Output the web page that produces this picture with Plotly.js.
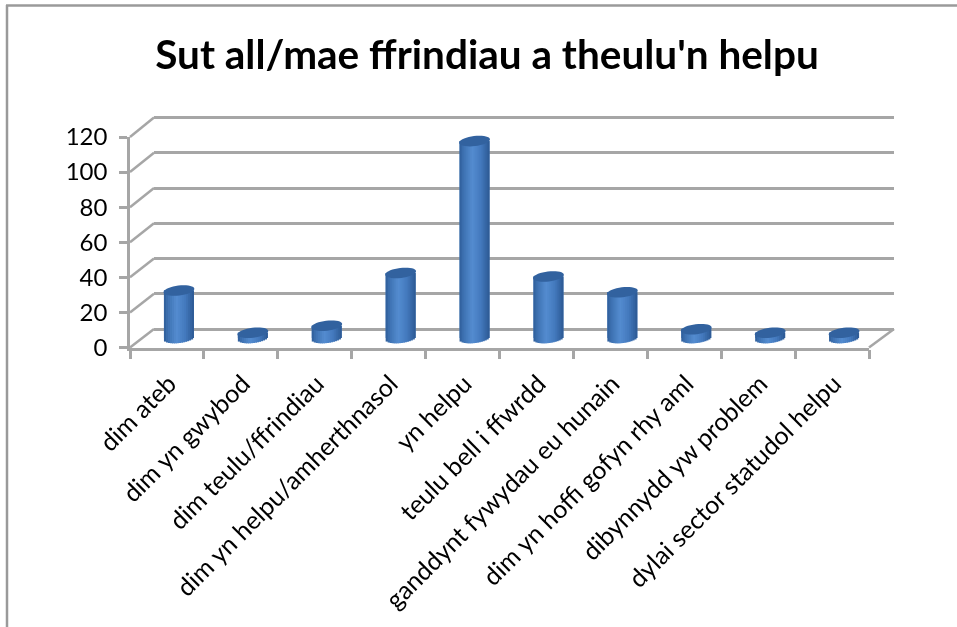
<!DOCTYPE html>
<html><head><meta charset="utf-8">
<script src="https://cdn.plot.ly/plotly-3.0.1.min.js"></script>
<style>html,body{margin:0;padding:0;background:#fff}#c{width:957px;height:627px;filter:blur(0.45px)}</style>
</head><body><div id="c"></div>
<script>
const categories = ["dim ateb","dim yn gwybod","dim teulu/ffrindiau","dim yn helpu/amherthnasol","yn helpu","teulu bell i ffwrdd","ganddynt fywydau eu hunain","dim yn hoffi gofyn rhy aml","dibynnydd yw problem","dylai sector statudol helpu"];
const values = [27,3,7,37,112,35,26,5,3,3];
const yTicks = [0,20,40,60,80,100,120];
const titleText = "Sut all/mae ffrindiau a theulu'n helpu";

const W = 957, H = 627;
const fx = p => p / W, fy = p => 1 - p / H;
const front = {x0:130, x1:869, y0:347.5, y1:137};
const back  = {x0:154, x1:894, y0:329, y1:117.5};
const mid   = {x0:142, x1:881, y0:338, y1:127};
const grey = "#a6a6a6";
const pxPerUnit = (mid.y0 - mid.y1) / 120;
const catW = (mid.x1 - mid.x0) / categories.length;
const cylW = 30, a = 15.5, b = 5, tilt = -7 * Math.PI / 180;
const below = 8; // value units of room under the floor for the lower rim

// gradient across the cylinder
const stops = [[0,[46,92,152]],[0.12,[60,112,176]],[0.42,[84,140,208]],[0.7,[68,122,190]],[0.9,[52,100,162]],[1,[44,88,146]]];
function shade(t){
  for(let i=1;i<stops.length;i++){ if(t<=stops[i][0]){
    const [t0,c0]=stops[i-1],[t1,c1]=stops[i],k=(t-t0)/(t1-t0);
    return "rgb("+c0.map((c,j)=>Math.round(c+(c1[j]-c)*k)).join(",")+")";
  }}
  return "rgb(44,88,146)";
}
const common = {xaxis:"x3",yaxis:"y3",type:"bar",hoverinfo:"skip",showlegend:false};
const traces = [Object.assign({},common,{x:categories,y:values,width:cylW/catW,marker:{color:"#4a7fbe",line:{width:0}},name:"Sut all",hoverinfo:"x+y"})];
const strips = 15;
for(let i=0;i<strips;i++){
  const t0=i/strips, tc=(i+0.5)/strips, u=2*tc-1;
  // lower rim of the cylinder: half ellipse, tilted like the top
  const dropPx = b*Math.sqrt(1-u*u) + Math.tan(tilt)*a*u;
  const base = categories.map(()=> -dropPx/pxPerUnit);
  traces.push(Object.assign({},common,{
    x:categories,
    y:values.map((v,k)=>v-base[k]),
    base:base,
    width:(cylW/catW)/strips+(i<strips-1?0.016:0),
    offset:(cylW/catW)*(t0-0.5),
    marker:{color:shade(tc),line:{width:0}}
  }));
}
// cylinder tops: tilted ellipse anchored on each value
function ellipsePath(){
  let s="";
  for(let i=0;i<36;i++){
    const th=2*Math.PI*i/36, ex=a*Math.cos(th), ey=b*Math.sin(th);
    const px=ex*Math.cos(tilt)-ey*Math.sin(tilt), py=ex*Math.sin(tilt)+ey*Math.cos(tilt);
    s+=(i?"L":"M")+px.toFixed(2)+","+(-py).toFixed(2)+" ";
  }
  return s+"Z";
}
const shapes = [];
yTicks.forEach(v=>{
  const k=v/120;
  shapes.push({type:"line",xref:"paper",yref:"paper",layer:"below",
    x0:fx(front.x0),y0:fy(front.y0+(front.y1-front.y0)*k),
    x1:fx(back.x0),y1:fy(back.y0+(back.y1-back.y0)*k),
    line:{color:grey,width:2.5}});
});
shapes.push({type:"line",xref:"paper",yref:"paper",layer:"below",
  x0:fx(front.x1),y0:fy(front.y0),x1:fx(back.x1),y1:fy(back.y0),line:{color:grey,width:2.5}});
// outer frame
shapes.push({type:"line",xref:"paper",yref:"paper",x0:fx(7),x1:fx(7),y0:0,y1:fy(5),line:{color:"#9a9a9a",width:2.5}});
shapes.push({type:"line",xref:"paper",yref:"paper",x0:fx(6),x1:1,y0:fy(5.5),y1:fy(5.5),line:{color:"#9a9a9a",width:2.5}});
categories.forEach((c,k)=>{
  shapes.push({type:"path",xref:"x3",yref:"y3",xsizemode:"pixel",ysizemode:"pixel",
    xanchor:c,yanchor:values[k],path:ellipsePath(),
    fillcolor:"#32629f",line:{width:0},layer:"above"});
});
const lato = "Lato, Carlito, sans-serif";
const layout = {
  width:W,height:H,margin:{l:0,r:0,t:0,b:0},paper_bgcolor:"#fff",plot_bgcolor:"rgba(0,0,0,0)",
  showlegend:false,barmode:"overlay",
  title:{text:"<b>"+titleText+"</b>",x:fx(487),xref:"paper",xanchor:"center",y:fy(55),yref:"paper",yanchor:"middle",font:{family:lato,size:40.5,color:"#000"}},
  xaxis:{domain:[fx(front.x0),fx(front.x1)],anchor:"y",type:"category",categoryorder:"array",categoryarray:categories,
    range:[-0.5,9.5],tickmode:"array",tickvals:categories,ticktext:categories,tickson:"boundaries",ticks:"outside",ticklen:9,tickwidth:2.5,tickcolor:grey,ticklabelstandoff:9,ticklabelshift:2,
    showline:true,linecolor:grey,linewidth:2.5,showgrid:false,zeroline:false,tickangle:-45,tickfont:{family:lato,size:25,color:"#000"}},
  yaxis:{domain:[fy(front.y0),fy(front.y1)],anchor:"x",range:[0,120],tickmode:"array",tickvals:yTicks,ticks:"outside",ticklen:8,tickwidth:2.5,tickcolor:grey,ticklabelstandoff:7,
    showline:true,linecolor:grey,linewidth:2.5,showgrid:false,zeroline:false,tickfont:{family:lato,size:24,color:"#000"}},
  xaxis2:{domain:[fx(back.x0),fx(back.x1)],anchor:"y2",range:[0,1],visible:false},
  yaxis2:{domain:[fy(back.y0+2),fy(back.y1-2)],anchor:"x2",range:[-2/1.7625,120+2/1.7625],tickmode:"array",tickvals:yTicks,showticklabels:false,ticks:"",showgrid:true,gridcolor:grey,gridwidth:2.5,zeroline:false,showline:false},
  xaxis3:{domain:[fx(mid.x0),fx(mid.x1)],anchor:"y3",type:"category",categoryorder:"array",categoryarray:categories,range:[-0.5,9.5],visible:false},
  yaxis3:{domain:[fy(mid.y0+below*pxPerUnit),fy(mid.y1)],anchor:"x3",range:[-below,120],visible:false},
  shapes:shapes
};
const frontTrace = {x:categories,y:values,xaxis:"x",yaxis:"y",type:"scatter",mode:"none",hoverinfo:"skip",showlegend:false};
const backTrace = {x:[0,1],y:[0,120],xaxis:"x2",yaxis:"y2",type:"scatter",mode:"none",hoverinfo:"skip",showlegend:false};
Plotly.newPlot("c",[frontTrace,backTrace].concat(traces),layout,{displayModeBar:false,responsive:false});
</script></body></html>
